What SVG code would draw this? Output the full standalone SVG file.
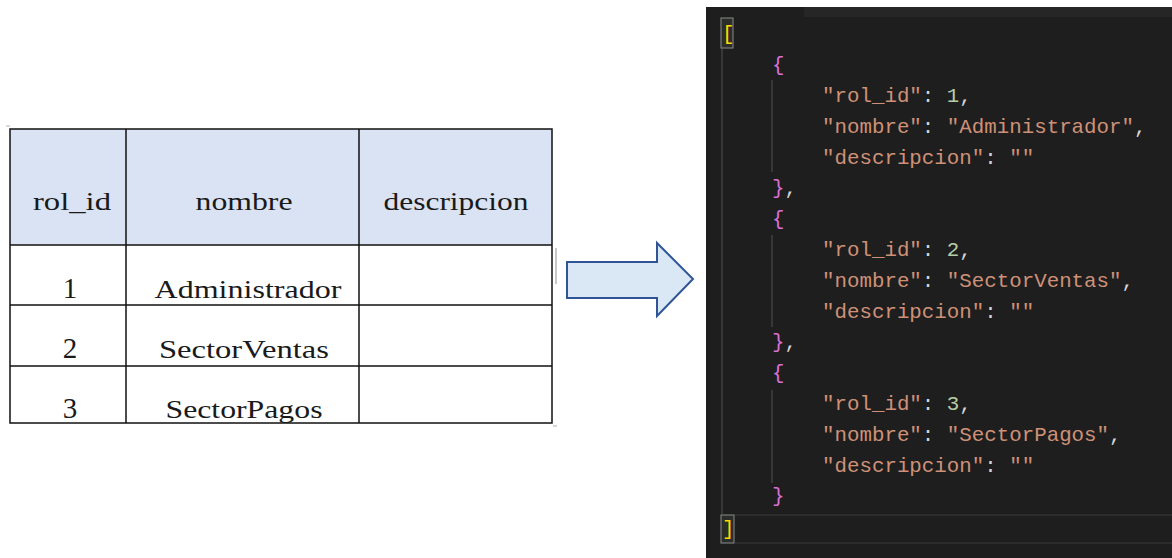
<svg xmlns="http://www.w3.org/2000/svg" width="1172" height="558" viewBox="0 0 1172 558">
<style>
.cell{font-family:"Liberation Serif","Times New Roman",serif;font-size:25px;fill:#1a1a1a;text-anchor:middle}
.grid{stroke:#111;stroke-width:1.5;fill:none}
.code{font-family:"Liberation Mono","DejaVu Sans Mono",monospace;font-size:20.8px;fill:#d4d4d4}
.s{fill:#ce9178}
.n{fill:#b5cea8}
.p{fill:#d4d4d4}
.b2{fill:#da70d6}
.b1{fill:#ffd700}
.guide{stroke:#404040;stroke-width:1.5}
</style>
<rect width="1172" height="558" fill="#ffffff"/>

<g id="table">
  <rect x="10" y="129" width="542" height="116" fill="#dae3f3"/>
  <rect x="10" y="129" width="542" height="294" class="grid"/>
  <line x1="126" y1="129" x2="126" y2="423" class="grid"/>
  <line x1="359" y1="129" x2="359" y2="423" class="grid"/>
  <line x1="10" y1="245" x2="552" y2="245" class="grid"/>
  <line x1="10" y1="305" x2="552" y2="305" class="grid"/>
  <line x1="10" y1="366" x2="552" y2="366" class="grid"/>
  <text class="cell" x="72" y="210" textLength="78" lengthAdjust="spacingAndGlyphs">rol_id</text>
  <text class="cell" x="244" y="210" textLength="97" lengthAdjust="spacingAndGlyphs">nombre</text>
  <text class="cell" x="456" y="210" textLength="145" lengthAdjust="spacingAndGlyphs">descripcion</text>
  <text class="cell" x="70" y="298" style="font-size:29px">1</text>
  <text class="cell" x="248" y="298" textLength="187" lengthAdjust="spacingAndGlyphs">Administrador</text>
  <text class="cell" x="70" y="358" style="font-size:29px">2</text>
  <text class="cell" x="244" y="358" textLength="170" lengthAdjust="spacingAndGlyphs">SectorVentas</text>
  <text class="cell" x="70" y="418" style="font-size:29px">3</text>
  <text class="cell" x="244" y="418" textLength="157" lengthAdjust="spacingAndGlyphs">SectorPagos</text>
  <rect x="555" y="248" width="2" height="36" fill="#c8c8c8"/>
  <path d="M6 126 h4 M553 426 h4" stroke="#b0b0b0" stroke-width="1"/>
</g>

<g id="connectors">
  <path d="M567 262 H657 V243 L693 279 L657 316 V298 H567 Z" fill="#dae8f5" stroke="#2f5597" stroke-width="2" stroke-linejoin="miter"/>
</g>

<g id="json">
  <rect x="706" y="7" width="466" height="551" fill="#1e1e1e"/>
  <rect x="804" y="7" width="368" height="10" fill="#262626"/>
  <line x1="735" y1="515" x2="1172" y2="515" stroke="#2c2c2c" stroke-width="2"/>
  <line x1="735" y1="543" x2="1172" y2="543" stroke="#2c2c2c" stroke-width="2"/>
  <line x1="722" y1="48" x2="722" y2="514" class="guide"/>
  <line x1="772" y1="80" x2="772" y2="172" class="guide"/>
  <line x1="772" y1="235" x2="772" y2="327" class="guide"/>
  <line x1="772" y1="390" x2="772" y2="483" class="guide"/>
  <rect x="721" y="18" width="12" height="30" fill="#2a2d2a" stroke="#8a8a8a" stroke-width="1"/>
  <rect x="721" y="515" width="13" height="28" fill="#2a2d2a" stroke="#8a8a8a" stroke-width="1"/>
  <text class="code b1" x="722" y="40">[</text>
  <text class="code b2" x="772" y="71">{</text>
  <text class="code" x="822" y="102" xml:space="preserve"><tspan class="s">"rol_id"</tspan><tspan class="p">: </tspan><tspan class="n">1</tspan><tspan class="p">,</tspan></text>
  <text class="code" x="822" y="133" xml:space="preserve"><tspan class="s">"nombre"</tspan><tspan class="p">: </tspan><tspan class="s">"Administrador"</tspan><tspan class="p">,</tspan></text>
  <text class="code" x="822" y="164" xml:space="preserve"><tspan class="s">"descripcion"</tspan><tspan class="p">: </tspan><tspan class="s">""</tspan></text>
  <text class="code" x="772" y="194"><tspan class="b2">}</tspan><tspan class="p">,</tspan></text>
  <text class="code b2" x="772" y="225">{</text>
  <text class="code" x="822" y="256" xml:space="preserve"><tspan class="s">"rol_id"</tspan><tspan class="p">: </tspan><tspan class="n">2</tspan><tspan class="p">,</tspan></text>
  <text class="code" x="822" y="287" xml:space="preserve"><tspan class="s">"nombre"</tspan><tspan class="p">: </tspan><tspan class="s">"SectorVentas"</tspan><tspan class="p">,</tspan></text>
  <text class="code" x="822" y="318" xml:space="preserve"><tspan class="s">"descripcion"</tspan><tspan class="p">: </tspan><tspan class="s">""</tspan></text>
  <text class="code" x="772" y="348"><tspan class="b2">}</tspan><tspan class="p">,</tspan></text>
  <text class="code b2" x="772" y="379">{</text>
  <text class="code" x="822" y="410" xml:space="preserve"><tspan class="s">"rol_id"</tspan><tspan class="p">: </tspan><tspan class="n">3</tspan><tspan class="p">,</tspan></text>
  <text class="code" x="822" y="441" xml:space="preserve"><tspan class="s">"nombre"</tspan><tspan class="p">: </tspan><tspan class="s">"SectorPagos"</tspan><tspan class="p">,</tspan></text>
  <text class="code" x="822" y="472" xml:space="preserve"><tspan class="s">"descripcion"</tspan><tspan class="p">: </tspan><tspan class="s">""</tspan></text>
  <text class="code b2" x="772" y="502">}</text>
  <text class="code b1" x="722" y="535">]</text>
</g>
</svg>
